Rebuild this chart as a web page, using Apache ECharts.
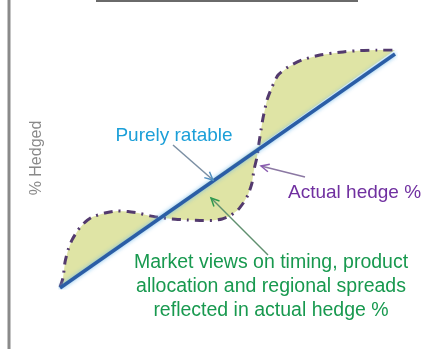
<!DOCTYPE html>
<html style="height: 100%;width:100%">
<head>
<meta charset="utf-8">
</head>
<body style="height: 100%; width:100%; margin:0">
<div id="chart-panel" style="width:426px;height:349px"></div>
<script type="text/javascript" src="https://cdn.jsdelivr.net/npm/echarts@6/dist/echarts.min.js"></script>
<script type="text/javascript">
// actual hedge % curve (x = time %, y = % hedged)
var hedgeX = [0, 0.9, 1.5, 2.4, 3.6, 5.4, 7.5, 9.6, 13.4, 17.0, 20.3, 23.3, 26.9, 29.9, 33.4, 37.9, 41.8, 45.4, 48.4, 50.7,
  53.1, 54.9, 56.1, 57.3, 57.9, 58.8, 59.4, 60.0, 60.6, 61.8, 63.3, 65.1, 68.1, 72.2, 77.6, 84.5, 89.6, 94.6, 100];
var hedgeY = [0.4, 4.2, 10.9, 16.0, 20.2, 24.4, 27.7, 29.8, 31.5, 32.4, 32.1, 31.5, 30.3, 29.6, 29.0, 28.6, 28.4, 28.4, 29.0, 30.3,
  32.8, 36.1, 39.1, 44.1, 49.6, 55.0, 60.9, 66.4, 71.4, 79.0, 84.5, 89.5, 92.9, 95.8, 97.9, 99.2, 99.8, 100, 100];
// purely ratable line
var ratableX = [0, 100];
var ratableY = [0, 98.3];

var labels = {
  axis: '% Hedged',
  ratable: 'Purely ratable',
  actual: 'Actual hedge %',
  views: 'Market views on timing, product\nallocation and regional spreads\nreflected in actual hedge %'
};

function pairs(xs, ys) {
  var out = [];
  for (var i = 0; i < xs.length; i++) out.push([xs[i], ys[i]]);
  return out;
}

// annotation arrow: line with open head at (x2, y2)
function arrow(x1, y1, x2, y2, color, headColor) {
  var a = Math.atan2(y1 - y2, x1 - x2);
  var h = 9, s = 0.45;
  return {
    type: 'group',
    z: 100,
    children: [
      { type: 'line', z: 100, shape: { x1: x1, y1: y1, x2: x2, y2: y2 }, style: { stroke: color, lineWidth: 1.5 } },
      { type: 'polyline', z: 101, shape: { points: [
          [x2 + h * Math.cos(a + s), y2 + h * Math.sin(a + s)],
          [x2, y2],
          [x2 + h * Math.cos(a - s), y2 + h * Math.sin(a - s)]
        ] }, style: { stroke: headColor, lineWidth: 1.5, fill: null } }
    ]
  };
}

var dom = document.getElementById('chart-panel');
var myChart = echarts.init(dom);
var font = '"Liberation Sans", Arial, sans-serif';

var option = {
  backgroundColor: '#ffffff',
  animation: false,
  grid: { left: 60, right: 31, top: 50, bottom: 61 },
  xAxis: { type: 'value', min: 0, max: 100, show: false },
  yAxis: { type: 'value', min: 0, max: 100, show: false },
  series: [
    {
      // shaded gap between actual and ratable
      type: 'custom',
      data: [0],
      z: 1,
      silent: true,
      renderItem: function (params, api) {
        var pts = [];
        for (var i = 0; i < hedgeX.length; i++) pts.push(api.coord([hedgeX[i], hedgeY[i]]));
        return { type: 'polygon', shape: { points: pts }, style: { fill: '#dfe4a5', stroke: null } };
      }
    },
    {
      type: 'line',
      data: pairs(hedgeX, hedgeY),
      smooth: 0.2,
      showSymbol: false,
      z: 2,
      lineStyle: { color: '#533a6e', width: 3, type: [9, 6, 2, 6] }
    },
    {
      type: 'line',
      data: pairs(ratableX, ratableY),
      showSymbol: false,
      z: 3,
      lineStyle: { color: '#2b5ea6', width: 3.5, shadowColor: 'rgba(110,185,235,0.9)', shadowBlur: 4 }
    }
  ],
  graphic: [
    { type: 'line', shape: { x1: 9, y1: 0, x2: 9, y2: 349 }, style: { stroke: '#8a8a8a', lineWidth: 3 } },
    { type: 'line', shape: { x1: 96, y1: 1, x2: 358, y2: 1 }, style: { stroke: '#6a6a6a', lineWidth: 2 } },
    { type: 'text', x: 37, y: 158, rotation: Math.PI / 2,
      style: { text: labels.axis, align: 'center', verticalAlign: 'middle', fontSize: 16, fontFamily: font, fill: '#8a8a8a' } },
    { type: 'text', x: 174, y: 136, z: 100,
      style: { text: labels.ratable, align: 'center', verticalAlign: 'middle', fontSize: 19, fontFamily: font, fill: '#1b9fd8' } },
    { type: 'text', x: 288, y: 193, z: 100,
      style: { text: labels.actual, align: 'left', verticalAlign: 'middle', fontSize: 19, fontFamily: font, fill: '#7030a0' } },
    { type: 'text', x: 271, y: 251, z: 100,
      style: { text: labels.views, align: 'center', verticalAlign: 'top', fontSize: 19.5, lineHeight: 24, fontFamily: font, fill: '#18994f' } },
    arrow(173, 145, 213, 180, '#7b8fa3', '#4f8fc0'),
    arrow(305, 177, 261, 166, '#8b78a3', '#8a5cb0'),
    arrow(268, 255, 211, 198, '#5f8f6f', '#2f9a50')
  ]
};

myChart.setOption(option);
</script>
</body>
</html>
